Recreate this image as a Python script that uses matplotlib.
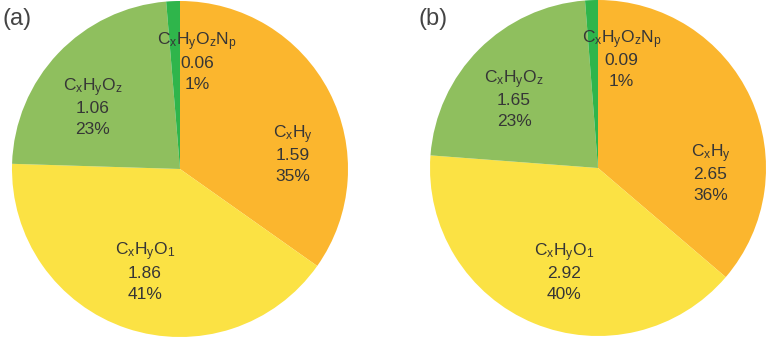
import matplotlib
matplotlib.use("Agg")
from matplotlib import pyplot as plt

plt.rcParams['font.family'] = ['Liberation Sans', 'DejaVu Sans']
plt.rcParams['mathtext.default'] = 'regular'

# data
names = [r'C$_x$H$_y$', r'C$_x$H$_y$O$_1$', r'C$_x$H$_y$O$_z$', r'C$_x$H$_y$O$_z$N$_p$']
values_a = [1.59, 1.86, 1.06, 0.06]
values_b = [2.65, 2.92, 1.65, 0.09]
pcts_a = ['35%', '41%', '23%', '1%']
pcts_b = ['36%', '40%', '23%', '1%']
colors = ['#fbb62e', '#fbe244', '#8fbf5e', '#2fb54b']

# label block centres (pie units)
pos_a = [(0.67, 0.08), (-0.21, -0.62), (-0.52, 0.36), (0.10, 0.63)]
pos_b = [(0.67, -0.04), (-0.20, -0.63), (-0.50, 0.40), (0.14, 0.64)]

W, H = 773, 347
fig = plt.figure(figsize=(W / 100, H / 100), dpi=100)


def draw_pie(cx, cy, r, values, pcts, pos, tag, tag_xy):
    ax = fig.add_axes([(cx - r) / W, (H - cy - r) / H, 2 * r / W, 2 * r / H])
    ax.pie(values, colors=colors, startangle=90, counterclock=False,
           wedgeprops=dict(linewidth=0))
    ax.set_xlim(-1, 1)
    ax.set_ylim(-1, 1)
    ax.set_aspect('equal')
    ax.axis('off')
    step = 21 / r
    for i in range(len(values)):
        x, y = pos[i]
        lines = [names[i], '%.2f' % values[i], pcts[i]]
        for j in range(3):
            ax.text(x, y + step * (1 - j), lines[j], ha='center', va='center',
                    fontsize=12.5, color='#363636')
    fig.text(tag_xy[0] / W, 1 - tag_xy[1] / H, tag, ha='left', va='center',
             fontsize=17, color='#444444')


draw_pie(180, 169, 168, values_a, pcts_a, pos_a, '(a)', (3, 19))
draw_pie(598, 168, 168, values_b, pcts_b, pos_b, '(b)', (419, 19))

fig.savefig('out.png', dpi=100)
